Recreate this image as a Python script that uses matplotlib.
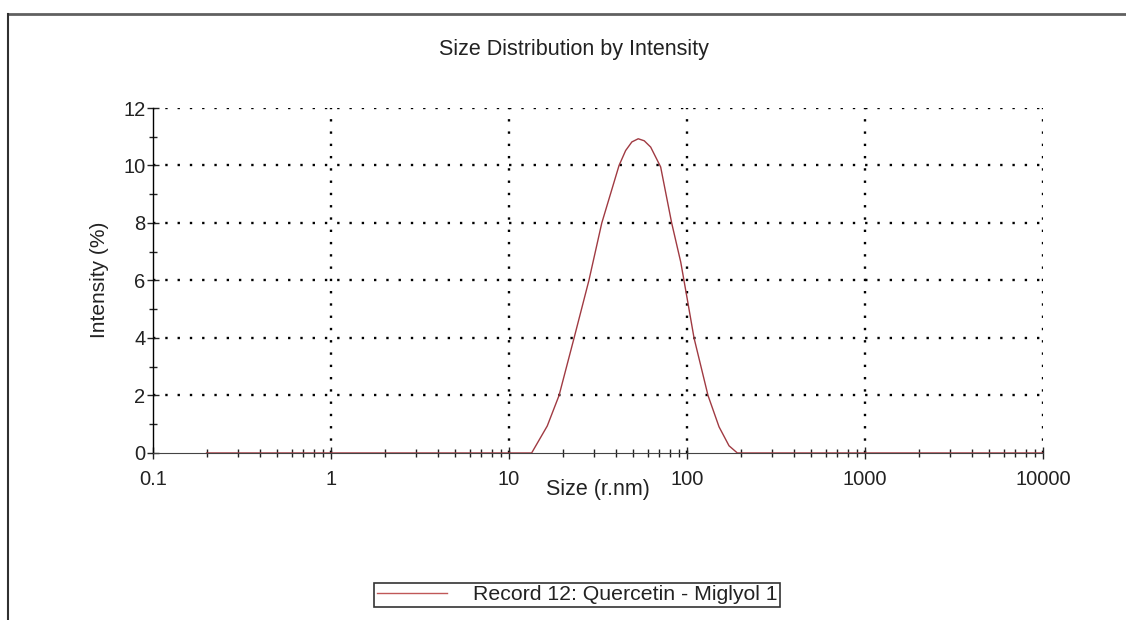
import numpy as np
import matplotlib.pyplot as plt
from matplotlib.lines import Line2D
from matplotlib.ticker import FixedLocator, LogLocator, NullFormatter

plt.rcParams['font.family'] = ['Liberation Sans', 'DejaVu Sans']

# valores (tamano en r.nm, intensidad en %)
size = [0.2, 1, 10, 13.4, 16.4, 19.1, 23.2, 28.1, 33.2, 41.5, 45.2, 49.0, 53.2, 57.5, 62.5,
        71.1, 82.0, 92.2, 100.4, 109.5, 131.2, 151.3, 172.2, 191.7, 1000, 10000]
intensity = [0, 0, 0, 0, 0.94, 2.0, 4.0, 6.0, 8.0, 10.0, 10.52, 10.82, 10.93, 10.86, 10.64,
             9.95, 8.0, 6.64, 5.34, 4.0, 2.0, 0.91, 0.25, 0, 0, 0]

x_ticks = [0.1, 1, 10, 100, 1000, 10000]
x_labels = ['0.1', '1', '10', '100', '1000', '10000']
y_ticks = [0, 2, 4, 6, 8, 10, 12]

fig = plt.figure(figsize=(11.26, 6.2), dpi=100)
ax = fig.add_axes([0.1359, 0.2694, 0.7904, 0.5564])

ax.plot(size, intensity, color='#a03a42', lw=1.0, label='Record 12: Quercetin - Miglyol 1', zorder=3)

ax.set_xscale('log')
ax.set_xlim(0.1, 10000)
ax.set_ylim(0, 12)
ax.set_xticks(x_ticks)
ax.set_xticklabels(x_labels)
ax.xaxis.set_minor_locator(LogLocator(base=10, subs=np.arange(2, 10)))
ax.xaxis.set_minor_formatter(NullFormatter())
ax.set_yticks(y_ticks)
ax.yaxis.set_minor_locator(FixedLocator([1, 3, 5, 7, 9, 11]))

ax.tick_params(which='major', direction='inout', length=9, width=1, labelsize=14.5, colors='#222222')
ax.tick_params(axis='x', which='major', pad=8)
ax.tick_params(axis='y', which='major', pad=1)
ax.tick_params(which='minor', direction='inout', length=6, width=1, colors='#222222')

ax.grid(True, which='major', color='black', linestyle=(0, (1, 4.2)), linewidth=1.7)
ax.get_ygridlines()[0].set_visible(False)
ax.get_xgridlines()[0].set_visible(False)

ax.spines['top'].set_visible(False)
ax.spines['right'].set_visible(False)
ax.spines['left'].set_linewidth(1.0)
ax.spines['bottom'].set_linewidth(0.8)
ax.spines['bottom'].set_color('#444444')

fig.text(574 / 1126, 1 - 50 / 620, 'Size Distribution by Intensity', fontsize=15.5,
         ha='center', va='center', color='#222222')
ax.set_xlabel('Size (r.nm)', fontsize=15.5, color='#222222')
ax.xaxis.set_label_coords(0.5, -0.107)
ax.xaxis.label.set_va('center')
ax.set_ylabel('Intensity (%)', fontsize=15, color='#222222')
ax.yaxis.set_label_coords(-0.0596, 0.501)
ax.yaxis.label.set_va('center')

leg = ax.legend(loc='center', bbox_to_anchor=(0.4764, -0.4116), frameon=True, fancybox=False,
                fontsize=15.3, handlelength=3.3, handletextpad=1.2, borderpad=0.12,
                borderaxespad=0, labelcolor='#222222')
leg.get_frame().set_edgecolor('black')
leg.get_frame().set_linewidth(1.2)
leg.get_lines()[0].set_color('#c05858')

# marco exterior
fig.add_artist(Line2D([8 / 1126, 1], [1 - 14 / 620, 1 - 14 / 620], color='#606060', lw=2))
fig.add_artist(Line2D([8 / 1126, 8 / 1126], [0, 1 - 14 / 620], color='#303030', lw=1.5))

fig.savefig('out.png', dpi=100)
